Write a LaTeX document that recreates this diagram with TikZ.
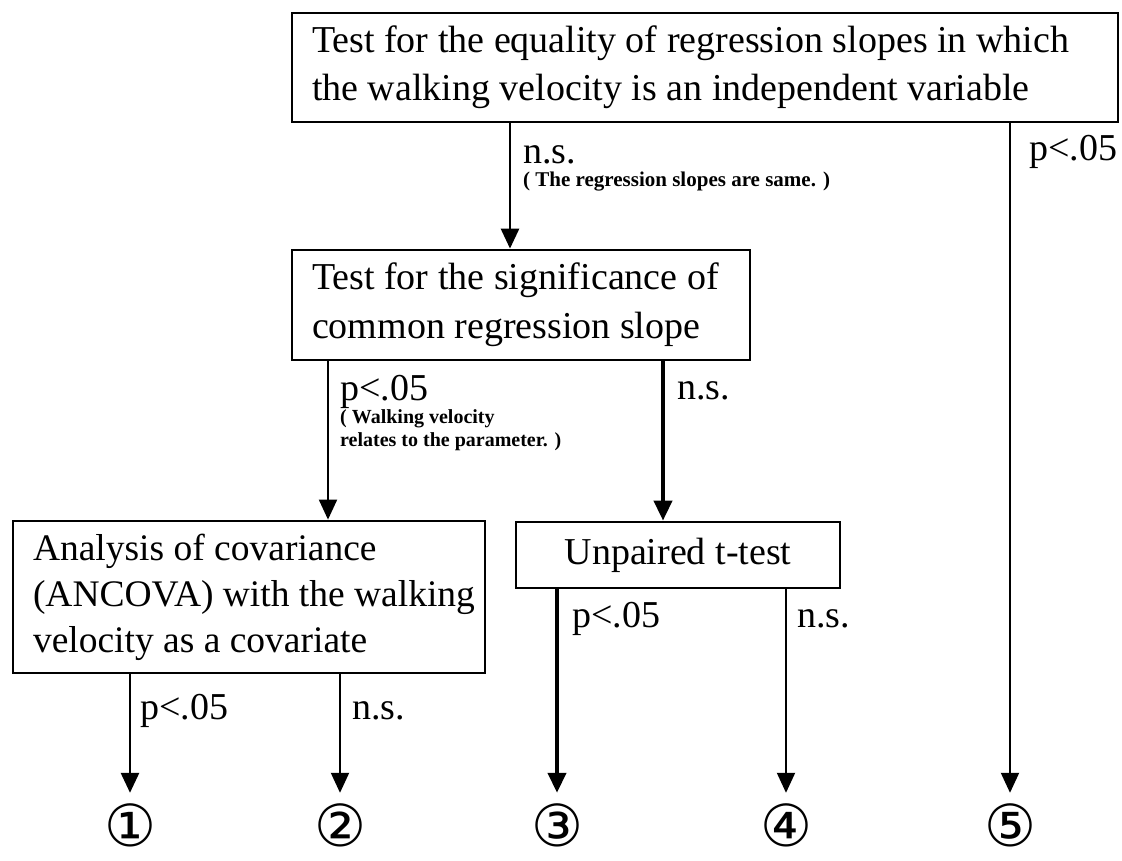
\documentclass[tikz,border=0pt]{standalone}
\usepackage{fontspec}
\setmainfont{Liberation Serif}
\newfontfamily\symfont{DejaVu Sans}
\usetikzlibrary{arrows.meta}
\begin{document}
\begin{tikzpicture}[x=1pt,y=-1pt,
  box/.style={draw, line width=2.8pt, inner sep=0pt, align=flush left},
  lab/.style={font=\fontsize{38}{40}\selectfont, anchor=base west, inner sep=0pt},
  note/.style={font=\bfseries\fontsize{20}{23}\selectfont, anchor=base west, inner sep=0pt, align=flush left},
  num/.style={font=\symfont\fontsize{58}{58}\selectfont, inner sep=0pt, anchor=base, text height=38pt, text depth=4pt},
  arr/.style={-{Triangle[length=20pt,width=18pt]}},
  wA/.style={line width=2pt},
  wB/.style={line width=2.8pt},
  wC/.style={line width=4pt}
]
\useasboundingbox (0,0) rectangle (1122,860);
\node[box, minimum width=826pt, minimum height=109pt, text width=786pt,
      font=\fontsize{38}{48}\selectfont] (top) at (705,67.5)
  {Test for the equality of regression slopes in which\\the walking velocity is an independent variable};
\node[box, minimum width=458pt, minimum height=110pt, text width=418pt,
      font=\fontsize{38}{49}\selectfont] (b2) at (521,305)
  {Test for the significance of\\common regression slope};
\node[box, minimum width=472pt, minimum height=152pt, text width=432pt,
      font=\fontsize{37.5}{46}\selectfont] (b3) at (249,597)
  {Analysis of covariance\\\mbox{(ANCOVA) with the walking}\\velocity as a covariate};
\node[box, minimum width=324pt, minimum height=66pt, align=center,
      font=\fontsize{38}{46}\selectfont] (b4) at (678,555) {Unpaired t-test};

\node[num] (c1) at (130,846) {①};
\node[num] (c2) at (340,846) {②};
\node[num] (c3) at (557,846) {③};
\node[num] (c4) at (786,846) {④};
\node[num] (c5) at (1010,846) {⑤};

\coordinate (xa) at (510,0);
\coordinate (xb) at (328,0);
\coordinate (xc) at (663,0);

\draw[arr,wB] (top.south -| xa) -- (b2.north -| xa);
\draw[arr,wA] (top.south -| c5) -- ([yshift=15pt]c5.north);
\draw[arr,wA] (b2.south -| xb) -- (b3.north -| xb);
\draw[arr,wC] (b2.south -| xc) -- (b4.north -| xc);
\draw[arr,wB] (b3.south -| c1) -- ([yshift=15pt]c1.north);
\draw[arr,wA] (b3.south -| c2) -- ([yshift=15pt]c2.north);
\draw[arr,wC] (b4.south -| c3) -- ([yshift=15pt]c3.north);
\draw[arr,wA] (b4.south -| c4) -- ([yshift=15pt]c4.north);

\node[lab] (l1) at (523,163) {n.s.};
\node[note, font=\bfseries\fontsize{21}{23}\selectfont] (n1) at (523,186) {( The regression slopes are same. )};
\node[lab] (l2) at (1029,160) {p<.05};
\node[lab] (l3) at (340,400) {p<.05};
\node[note] (n2) at (340,446) {( Walking velocity\\relates to the parameter. )};
\node[lab] (l4) at (677,399) {n.s.};
\node[lab] (l5) at (572,627) {p<.05};
\node[lab] (l6) at (797,627) {n.s.};
\node[lab] (l7) at (140,719) {p<.05};
\node[lab] (l8) at (352,719) {n.s.};
\end{tikzpicture}
\end{document}
